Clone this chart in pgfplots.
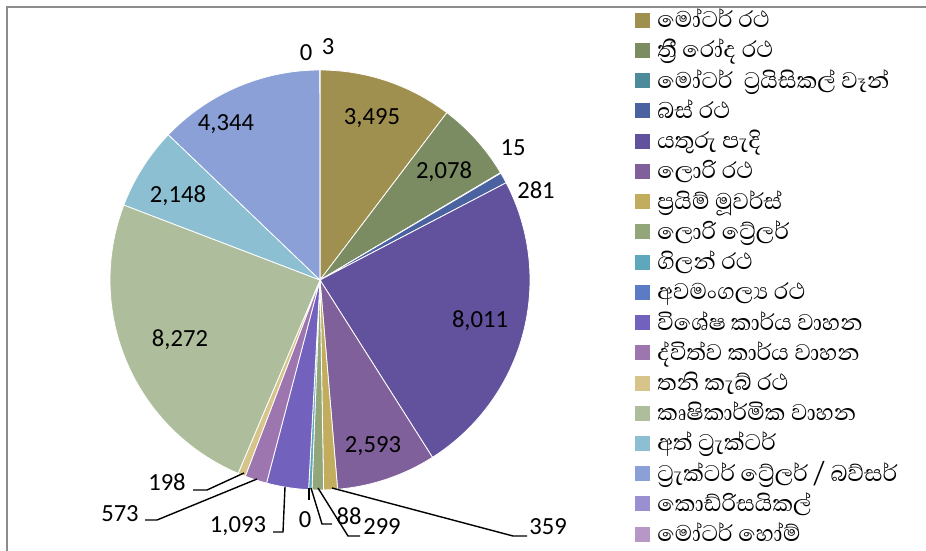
\documentclass[border=0pt]{standalone}
\usepackage{fontspec}
\setmainfont{Carlito}
\newfontfamily\sinfont[Script=Sinhala]{Abhaya Libre}
\usepackage{pgfplots}
\usepackage{pgfplotstable}
\pgfplotsset{compat=1.18}

% slice colours, in legend order
\definecolor{c0}{HTML}{A09050}
\definecolor{c1}{HTML}{7B8B62}
\definecolor{c2}{HTML}{4E8B9A}
\definecolor{c3}{HTML}{4A62A0}
\definecolor{c4}{HTML}{62519D}
\definecolor{c5}{HTML}{80609A}
\definecolor{c6}{HTML}{C2AC5E}
\definecolor{c7}{HTML}{93A67A}
\definecolor{c8}{HTML}{5FA7BD}
\definecolor{c9}{HTML}{5B7BC4}
\definecolor{c10}{HTML}{7262BE}
\definecolor{c11}{HTML}{9D76B0}
\definecolor{c12}{HTML}{D6C48A}
\definecolor{c13}{HTML}{AEBE9C}
\definecolor{c14}{HTML}{8BBFD1}
\definecolor{c15}{HTML}{8AA0D6}
\definecolor{c16}{HTML}{9A8FD0}
\definecolor{c17}{HTML}{B697C6}

\pgfplotstableread{
value
3495
2078
15
281
8011
2593
359
299
88
0
1093
573
198
8272
2148
4344
0
3
}\pietable

% start/end angles of the slices, clockwise from 12 o'clock
\gdef\total{0}
\pgfplotstableforeachcolumnelement{value}\of\pietable\as\v{%
  \xdef\total{\fpeval{\total+\v}}}
\gdef\cum{0}
\pgfplotstableforeachcolumnelement{value}\of\pietable\as\v{%
  \expandafter\xdef\csname sa\pgfplotstablerow\endcsname{\fpeval{90-360*\cum/\total}}%
  \xdef\cum{\fpeval{\cum+\v}}%
  \expandafter\xdef\csname sb\pgfplotstablerow\endcsname{\fpeval{90-360*\cum/\total}}%
  \expandafter\xdef\csname v\pgfplotstablerow\endcsname{\v}}

\newcommand\lab[3]{\node[font=\fontsize{12.3}{14}\selectfont] at (axis cs:#1,#2) {#3};}
\newcommand\Z{^^^^200d}

\begin{document}
\begin{tikzpicture}
\begin{axis}[
  width=463pt, height=275.5pt, scale only axis,
  xmin=0, xmax=926, ymin=0, ymax=551,
  hide axis, clip=false,
  legend image code/.code={\fill[#1, draw=none] (0pt,-6.06pt) rectangle (7.5pt,1.44pt);},
  legend cell align=left,
  legend style={at={(axis cs:635,551)}, anchor=north west, draw=none, fill=none,
    inner sep=0pt, row sep=0pt,
    font=\sinfont\fontsize{14.5}{16}\selectfont,
    nodes={inner xsep=3.5pt, inner ysep=0pt, text height=13.62pt, text depth=1.5pt}},
]
\pgfplotsinvokeforeach{0,...,17}{
  \ifdim\csname v#1\endcsname pt>0pt
    \edef\tmp{\noexpand\addplot[fill=c#1, draw=white, line width=0.4pt,
      domain=\csname sb#1\endcsname:\csname sa#1\endcsname, samples=80]
      ({320+210*cos(x)},{271+210*sin(x)}) -- (axis cs:320,271) -- cycle;}
    \tmp
  \else
    \addlegendimage{fill=c#1}
  \fi
}
\legend{මෝටර් රථ, ත්\Z රී රෝද රථ, මෝටර්~ ට්\Z රයිසිකල් වෑන්, බස් රථ, යතුරු පැදි,
  ලොරි රථ, ප්\Z රයිම් මූවර්ස්, ලොරි ට්\Z රේලර්, ගිලන් රථ, අවමංගල්\Z ය රථ,
  විශේෂ කාර්ය වාහන, ද්විත්ව කාර්ය වාහන, තනි කැබ් රථ, කෘෂිකාර්මික වාහන,
  අත් ට්\Z රැක්ටර්, ට්\Z රැක්ටර් ට්\Z රේලර් / බව්සර්, කොඩ්රිසයිකල්, මෝටර් හෝම්}

% leader lines
\addplot[forget plot, black, line width=0.7pt] coordinates {(193,61) (207,61) (244,78)};
\addplot[forget plot, black, line width=0.7pt] coordinates {(145,31) (157,31) (257,72)};
\addplot[forget plot, black, line width=0.7pt] coordinates {(273,19) (283,19) (285,64)};
\addplot[forget plot, black, line width=0.7pt] coordinates {(309,51) (309,63)};
\addplot[forget plot, black, line width=0.7pt] coordinates {(332,27) (322,27) (311,63)};
\addplot[forget plot, black, line width=0.7pt] coordinates {(360,15) (348,15) (318,63)};
\addplot[forget plot, black, line width=0.7pt] coordinates {(527,15) (513,15) (332,63)};

% data labels
\lab{372}{433}{3,495}
\lab{444}{379}{2,078}
\lab{513}{403}{15}
\lab{536}{361}{281}
\lab{480}{230}{8,011}
\lab{373}{105}{2,593}
\lab{548}{24}{359}
\lab{382}{24}{299}
\lab{349}{35}{88}
\lab{305}{31}{0}
\lab{238}{25}{1,093}
\lab{120}{37}{573}
\lab{167}{69}{198}
\lab{180}{211}{8,272}
\lab{178}{355}{2,148}
\lab{226}{427}{4,344}
\lab{306}{498}{0}
\lab{328}{504}{3}

% chart frame
\draw[color=black!45, line width=0.75pt] (axis cs:7,0) -- (axis cs:7,544) -- (axis cs:926,544);
\end{axis}
\pgfresetboundingbox
\path (current axis.south west) rectangle (current axis.north east);
\end{tikzpicture}
\end{document}
